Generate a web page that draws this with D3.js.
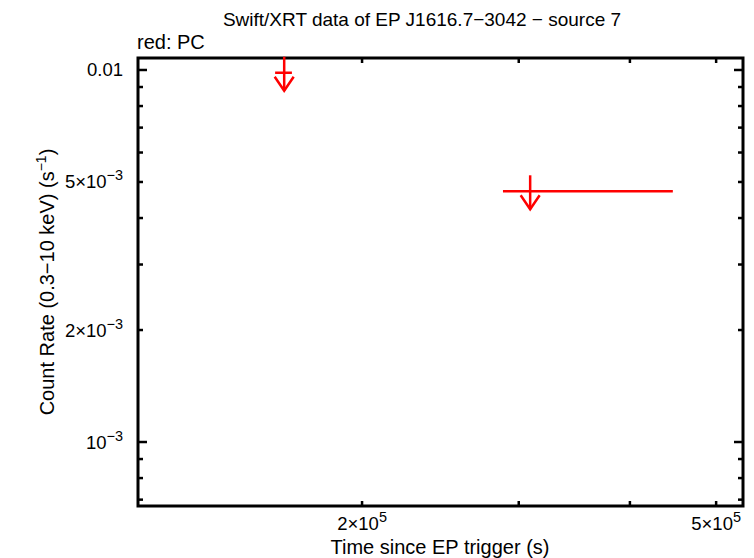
<!DOCTYPE html>
<html><head><meta charset="utf-8">
<script src="https://cdn.jsdelivr.net/npm/d3@7"></script>
<style>
body{margin:0;background:#fff;}
text{font-family:"Liberation Sans",Arial,Helvetica,sans-serif;fill:#000;}
</style></head>
<body><svg id="c" width="754" height="558"></svg>
<script>
// data
const times = [1.635e5, 3.09e5];
const tStart = [1.597e5, 2.88e5];
const tEnd = [1.668e5, 4.47e5];
const rates = [0.00983, 0.00472];
const xMajor = [2e5, 5e5];
const xMajorLabels = [["2×10","5"],["5×10","5"]];
const xMinor = [3e5, 4e5];
const yLabelVals = [0.01, 5e-3, 2e-3, 1e-3];
const yLabelTexts = [["0.01",""],["5×10","−3"],["2×10","−3"],["10","−3"]];
const yDecades = [1e-3, 1e-2];
const yMinor = [7e-4, 8e-4, 9e-4, 2e-3, 3e-3, 4e-3, 5e-3, 6e-3, 7e-3, 8e-3, 9e-3];

const L = 138, R = 743, T = 58, B = 506;
const svg = d3.select("#c");
const x = d3.scaleLog().domain([1.12e5, 5.36e5]).range([L, R]);
const y = d3.scaleLog().domain([6.73e-4, 1.077e-2]).range([B, T]);

const g = svg.append("g");
const tw = 2.5;
function vt(xv, len){
  g.append("line").attr("x1", x(xv)).attr("x2", x(xv)).attr("y1", B).attr("y2", B - len).attr("stroke", "#000").attr("stroke-width", tw);
  g.append("line").attr("x1", x(xv)).attr("x2", x(xv)).attr("y1", T).attr("y2", T + len).attr("stroke", "#000").attr("stroke-width", tw);
}
function ht(yv, len){
  g.append("line").attr("y1", y(yv)).attr("y2", y(yv)).attr("x1", L).attr("x2", L + len).attr("stroke", "#000").attr("stroke-width", tw);
  g.append("line").attr("y1", y(yv)).attr("y2", y(yv)).attr("x1", R).attr("x2", R - len).attr("stroke", "#000").attr("stroke-width", tw);
}
xMajor.concat(xMinor).forEach(v => vt(v, 5));
yDecades.forEach(v => ht(v, 9));
yMinor.forEach(v => ht(v, 5));

g.append("rect").attr("x", L).attr("y", T).attr("width", R - L).attr("height", B - T)
  .attr("fill", "none").attr("stroke", "#000").attr("stroke-width", 3);

function supText(parent, xp, yp, parts, anchor, size){
  const t = parent.append("text").attr("x", xp).attr("y", yp).attr("text-anchor", anchor).style("font-size", size + "px");
  t.append("tspan").text(parts[0]);
  if (parts[1]) t.append("tspan").attr("dy", -8).style("font-size", (size * 0.78) + "px").text(parts[1]);
  return t;
}
xMajor.forEach((v, i) => supText(svg, x(v), 530, xMajorLabels[i], "middle", 18.5));
yLabelVals.forEach((v, i) => supText(svg, 123, y(v) + 6.5, yLabelTexts[i], "end", 18.5));

svg.append("text").attr("x", 440).attr("y", 554).attr("text-anchor", "middle").style("font-size", "20px").text("Time since EP trigger (s)");
const yl = svg.append("text").attr("transform", "translate(54,282) rotate(-90)").attr("text-anchor", "middle").style("font-size", "20px");
yl.append("tspan").text("Count Rate (0.3−10 keV) (s");
yl.append("tspan").attr("dy", -8).style("font-size", "14px").text("−1");
yl.append("tspan").attr("dy", 8).text(")");

svg.append("text").attr("x", 422).attr("y", 26).attr("text-anchor", "middle").style("font-size", "19px").text("Swift/XRT data of EP J1616.7−3042 − source 7");
svg.append("text").attr("x", 137).attr("y", 49).style("font-size", "20px").text("red: PC");

const red = "#ff0000";
const pts = times.map((t, i) => ({t, s: tStart[i], e: tEnd[i], r: rates[i]}));
const pg = svg.append("g").attr("stroke", red).attr("stroke-width", 2.5).attr("fill", "none");
pts.forEach(d => {
  const cx = x(d.t), cy = y(d.r);
  pg.append("line").attr("x1", x(d.s)).attr("x2", x(d.e)).attr("y1", cy).attr("y2", cy);
  pg.append("line").attr("x1", cx).attr("x2", cx).attr("y1", cy - 16).attr("y2", cy + 18);
  pg.append("polyline").attr("points", [[cx - 9.5, cy + 4], [cx, cy + 18], [cx + 9.5, cy + 4]].map(p => p.join(",")).join(" "));
});
</script></body></html>
